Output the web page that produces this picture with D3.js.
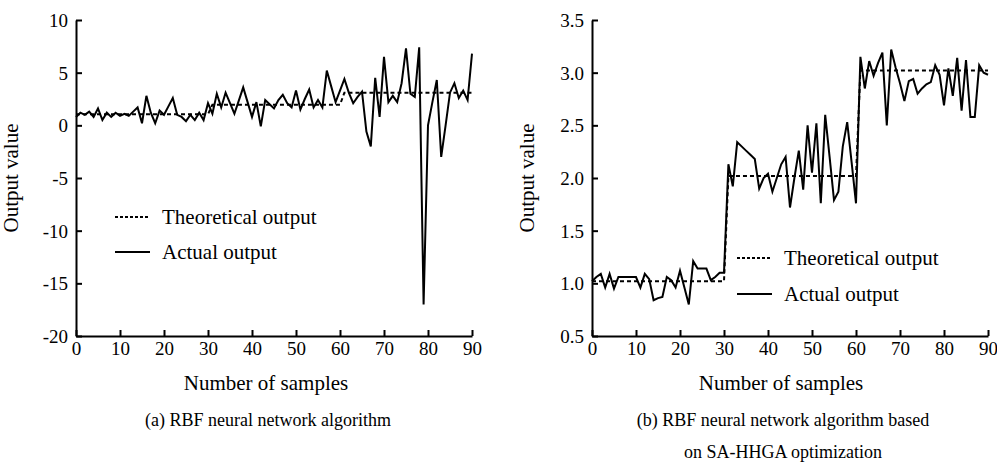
<!DOCTYPE html>
<html>
<head>
<meta charset="utf-8">
<script src="https://cdn.jsdelivr.net/npm/d3@7"></script>
<style>
  body { margin: 0; background: #fff; }
</style>
</head>
<body>
<svg id="chart" width="997" height="464"></svg>
<script>
// Nummers van de samples (categorieen op de x-as)
const samples = d3.range(91);

// (a) RBF zonder optimalisatie
const theoreticalA = [
  1.05, 1.05, 1.05, 1.05, 1.05, 1.05, 1.05, 1.05, 1.05, 1.05, 1.05,
  1.05, 1.05, 1.05, 1.05, 1.05, 1.05, 1.05, 1.05, 1.05, 1.05,
  1.05, 1.05, 1.05, 1.05, 1.05, 1.05, 1.05, 1.05, 1.05, 1.05,
  1.95, 1.95, 1.95, 1.95, 1.95, 1.95, 1.95, 1.95, 1.95, 1.95,
  1.95, 1.95, 1.95, 1.95, 1.95, 1.95, 1.95, 1.95, 1.95, 1.95,
  1.95, 1.95, 1.95, 1.95, 1.95, 1.95, 1.95, 1.95, 1.95, 1.95,
  3.1, 3.1, 3.1, 3.1, 3.1, 3.1, 3.1, 3.1, 3.1, 3.1,
  3.1, 3.1, 3.1, 3.1, 3.1, 3.1, 3.1, 3.1, 3.1, 3.1,
  3.1, 3.1, 3.1, 3.1, 3.1, 3.1, 3.1, 3.1, 3.1, 3.1
];
const actualA = [
  0.8, 1.2, 1.0, 1.3, 0.8, 1.6, 0.5, 1.2, 0.8, 1.2, 0.9,
  1.1, 0.9, 1.3, 1.7, 0.2, 2.8, 1.2, 0.2, 1.4, 1.0,
  1.8, 2.6, 1.0, 0.8, 0.4, 1.0, 0.5, 1.2, 0.5, 2.1,
  1.1, 3.0, 1.7, 3.1, 2.1, 1.1, 2.35, 3.6, 2.2, 0.8,
  2.2, -0.1, 2.4, 2.0, 1.6, 2.4, 2.9, 2.1, 1.7, 3.3,
  1.5, 2.5, 3.4, 1.7, 2.4, 1.7, 5.2, 3.7, 2.2, 3.3,
  4.4, 3.1, 2.1, 2.7, 3.2, -0.6, -2.0, 4.5, 0.8, 6.5,
  2.2, 2.8, 2.2, 4.0, 7.3, 3.0, 2.7, 7.4, -17.0, 0.0,
  2.2, 4.3, -3.0, 0.0, 3.1, 4.0, 2.6, 3.3, 2.4, 6.8
];

// (b) RBF met SA-HHGA optimalisatie
const theoreticalB = [
  1.02, 1.02, 1.02, 1.02, 1.02, 1.02, 1.02, 1.02, 1.02, 1.02, 1.02,
  1.02, 1.02, 1.02, 1.02, 1.02, 1.02, 1.02, 1.02, 1.02, 1.02,
  1.02, 1.02, 1.02, 1.02, 1.02, 1.02, 1.02, 1.02, 1.02, 1.02,
  2.02, 2.02, 2.02, 2.02, 2.02, 2.02, 2.02, 2.02, 2.02, 2.02,
  2.02, 2.02, 2.02, 2.02, 2.02, 2.02, 2.02, 2.02, 2.02, 2.02,
  2.02, 2.02, 2.02, 2.02, 2.02, 2.02, 2.02, 2.02, 2.02, 2.02,
  3.02, 3.02, 3.02, 3.02, 3.02, 3.02, 3.02, 3.02, 3.02, 3.02,
  3.02, 3.02, 3.02, 3.02, 3.02, 3.02, 3.02, 3.02, 3.02, 3.02,
  3.02, 3.02, 3.02, 3.02, 3.02, 3.02, 3.02, 3.02, 3.02, 3.02
];
const actualB = [
  1.02, 1.06, 1.09, 0.96, 1.09, 0.95, 1.06, 1.06, 1.06, 1.06, 1.06,
  0.96, 1.09, 1.04, 0.84, 0.86, 0.87, 1.06, 1.03, 0.96, 1.12,
  0.96, 0.80, 1.21, 1.14, 1.14, 1.14, 1.03, 1.06, 1.10, 1.10,
  2.13, 1.92, 2.34, 2.30, 2.26, 2.22, 2.18, 1.90, 2.00, 2.04,
  1.87, 2.00, 2.13, 2.20, 1.72, 2.00, 2.26, 1.89, 2.50, 2.05,
  2.52, 1.76, 2.60, 2.20, 1.79, 1.87, 2.30, 2.53, 2.15, 1.76,
  3.15, 2.85, 3.11, 2.97, 3.09, 3.19, 2.50, 3.22, 3.05, 2.90,
  2.73, 2.92, 2.94, 2.80, 2.85, 2.89, 2.91, 3.07, 2.98, 2.69,
  3.04, 2.78, 3.14, 2.64, 3.12, 2.58, 2.58, 3.07, 3.00, 2.98
];

const xTicks = [0, 10, 20, 30, 40, 50, 60, 70, 80, 90];
const yTicksA = [-20, -15, -10, -5, 0, 5, 10];
const yTicksB = [0.5, 1.0, 1.5, 2.0, 2.5, 3.0, 3.5];
const legendLabels = ['Theoretical output', 'Actual output'];
const captionA = ['(a) RBF neural network algorithm'];
const captionB = ['(b) RBF neural network algorithm based', 'on SA-HHGA optimization'];

const FONT = '"Liberation Serif", "Times New Roman", Times, "DejaVu Serif", serif';
const svg = d3.select('#chart');

// Deze functie geeft een tekst het serif-lettertype en een grootte
const serif = (sel, size) => sel
    .style('font-family', FONT)
    .style('font-size', size + 'px')
    .style('fill', '#000');

// Deze functie tekent een paneel met assen, lijnen, legenda en onderschrift
const drawPanel = (opt) => {
    const g = svg.append('g');
    const x = d3.scaleLinear().domain([0, 90]).range([opt.left, opt.right]);
    const y = d3.scaleLinear().domain(opt.yDomain).range([336, 20]);

    // assen, ticks naar binnen
    const xAxis = d3.axisBottom(x).tickValues(xTicks).tickSizeInner(-6).tickSizeOuter(0).tickPadding(5);
    const yAxis = d3.axisLeft(y).tickValues(opt.yTicks).tickSizeInner(-6).tickSizeOuter(0).tickPadding(8)
        .tickFormat(opt.fmt);

    const gx = g.append('g').attr('transform', 'translate(0,336)').call(xAxis);
    const gy = g.append('g').attr('transform', `translate(${opt.left},0)`).call(yAxis);
    [gx, gy].forEach(a => {
        a.attr('font-family', null);
        a.select('.domain').attr('stroke', '#000').attr('stroke-width', 2);
        a.selectAll('.tick line').attr('stroke', '#000').attr('stroke-width', 2);
        serif(a.selectAll('.tick text'), 19);
    });
    gy.selectAll('.tick text').attr('dy', '0.34em');
    gx.selectAll('.tick text').attr('dy', '0.75em');

    const line = d3.line().x((d, i) => x(samples[i])).y(d => y(d));

    g.append('path').datum(opt.theoretical)
        .attr('d', line).attr('fill', 'none')
        .attr('stroke', '#000').attr('stroke-width', 2).attr('stroke-dasharray', '4,3');
    g.append('path').datum(opt.actual)
        .attr('d', line).attr('fill', 'none')
        .attr('stroke', '#000').attr('stroke-width', 2);

    // as-titels
    serif(g.append('text'), 21)
        .attr('transform', `translate(${opt.left - 58},178) rotate(-90)`)
        .attr('text-anchor', 'middle')
        .text('Output value');
    serif(g.append('text'), 21)
        .attr('x', opt.titleX).attr('y', 390)
        .attr('text-anchor', 'middle')
        .text('Number of samples');

    // legenda
    legendLabels.forEach((label, i) => {
        const ly = opt.legendY + i * opt.legendGap;
        g.append('line')
            .attr('x1', opt.legendX).attr('x2', opt.legendX + 35)
            .attr('y1', ly).attr('y2', ly)
            .attr('stroke', '#000').attr('stroke-width', 2)
            .attr('stroke-dasharray', i === 0 ? '3,2' : null);
        serif(g.append('text'), 21)
            .attr('x', opt.legendX + 47).attr('y', ly + 7)
            .text(label);
    });

    // onderschrift
    opt.caption.forEach((c, i) => {
        serif(g.append('text'), 18)
            .attr('x', opt.captionX).attr('y', 426 + i * 32)
            .attr('text-anchor', 'middle')
            .text(c);
    });
};

drawPanel({
    left: 76, right: 472, yDomain: [-20, 10], yTicks: yTicksA, fmt: d => String(d),
    theoretical: theoreticalA, actual: actualA,
    legendX: 115, legendY: 217, legendGap: 35,
    titleX: 266, captionX: 268, caption: captionA
});

drawPanel({
    left: 592, right: 988, yDomain: [0.5, 3.5], yTicks: yTicksB, fmt: d3.format('.1f'),
    theoretical: theoreticalB, actual: actualB,
    legendX: 737, legendY: 258, legendGap: 36,
    titleX: 781, captionX: 783, caption: captionB
});
</script>
</body>
</html>
